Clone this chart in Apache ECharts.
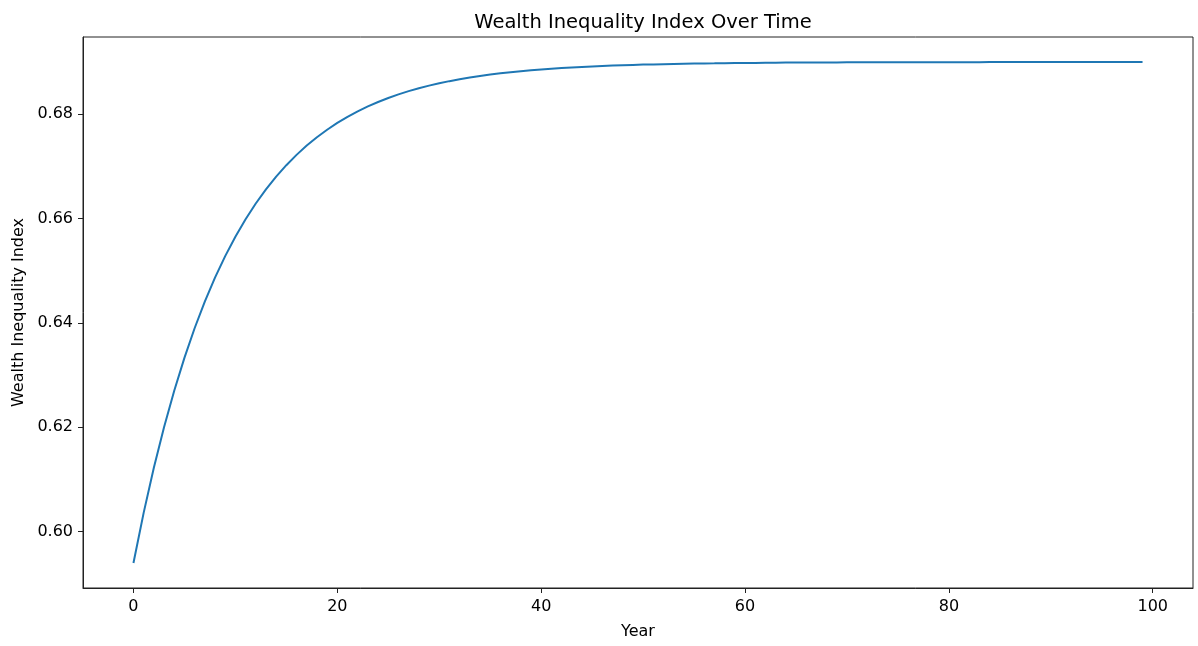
<!DOCTYPE html>
<html>
<head>
<meta charset="utf-8">
<title>Wealth Inequality Index Over Time</title>
<script src="https://cdn.jsdelivr.net/npm/echarts@6/dist/echarts.min.js"></script>
<style>
  html, body { margin: 0; padding: 0; background: #fff; }
  #chart { width: 1198px; height: 646px; }
</style>
</head>
<body>
<div id="chart"></div>
<script>
// years 0..99
const years = [];
for (let i = 0; i < 100; i++) years.push(i);

// index values
const inequality = [
  0.59400, 0.60360, 0.61224, 0.62002, 0.62701, 0.63331, 0.63898, 0.64408, 0.64868, 0.65281,
  0.65653, 0.65987, 0.66289, 0.66560, 0.66804, 0.67023, 0.67221, 0.67399, 0.67559, 0.67703,
  0.67833, 0.67950, 0.68055, 0.68149, 0.68234, 0.68311, 0.68380, 0.68442, 0.68498, 0.68548,
  0.68593, 0.68634, 0.68670, 0.68703, 0.68733, 0.68760, 0.68784, 0.68805, 0.68825, 0.68842,
  0.68858, 0.68872, 0.68885, 0.68897, 0.68907, 0.68916, 0.68925, 0.68932, 0.68939, 0.68945,
  0.68951, 0.68955, 0.68960, 0.68964, 0.68968, 0.68971, 0.68974, 0.68976, 0.68979, 0.68981,
  0.68983, 0.68984, 0.68986, 0.68987, 0.68989, 0.68990, 0.68991, 0.68992, 0.68993, 0.68993,
  0.68994, 0.68995, 0.68995, 0.68996, 0.68996, 0.68996, 0.68997, 0.68997, 0.68997, 0.68998,
  0.68998, 0.68998, 0.68998, 0.68998, 0.68999, 0.68999, 0.68999, 0.68999, 0.68999, 0.68999,
  0.68999, 0.68999, 0.69000, 0.69000, 0.69000, 0.69000, 0.69000, 0.69000, 0.69000, 0.69000
];

const xTicks = [0, 20, 40, 60, 80, 100];
const yTicks = [0.60, 0.62, 0.64, 0.66, 0.68];

const font = 'DejaVu Sans';
const dom = echarts.init(document.getElementById('chart'));

const option = {
  animation: false,
  title: {
    text: 'Wealth Inequality Index Over Time',
    left: 638,
    top: 8,
    textAlign: 'center',
    textStyle: { fontFamily: font, fontSize: 19.5, fontWeight: 'normal', color: '#000' }
  },
  grid: {
    left: 83,
    right: 5,
    top: 37,
    bottom: 58,
    show: true,
    borderColor: '#222',
    borderWidth: 1
  },
  xAxis: {
    type: 'value',
    min: -4.95,
    max: 103.95,
    name: 'Year',
    nameLocation: 'middle',
    nameGap: 36,
    nameTextStyle: { fontFamily: font, fontSize: 16, color: '#000' },
    splitLine: { show: false },
    axisLine: { show: true, onZero: false, lineStyle: { color: '#222', width: 1 } },
    axisTick: { show: true, length: 5, customValues: xTicks, lineStyle: { color: '#222' } },
    axisLabel: {
      customValues: xTicks,
      margin: 11,
      fontFamily: font,
      fontSize: 16,
      color: '#000'
    }
  },
  yAxis: {
    type: 'value',
    min: 0.5892,
    max: 0.6948,
    name: 'Wealth Inequality Index',
    nameLocation: 'middle',
    nameGap: 56,
    nameTextStyle: { fontFamily: font, fontSize: 16, color: '#000' },
    splitLine: { show: false },
    axisLine: { show: true, onZero: false, lineStyle: { color: '#222', width: 1 } },
    axisTick: { show: true, length: 5, customValues: yTicks, lineStyle: { color: '#222' } },
    axisLabel: {
      customValues: yTicks,
      margin: 10,
      fontFamily: font,
      fontSize: 16,
      color: '#000',
      formatter: v => v.toFixed(2)
    }
  },
  series: [
    {
      type: 'line',
      data: years.map((y, i) => [y, inequality[i]]),
      showSymbol: false,
      smooth: false,
      lineStyle: { color: '#1f77b4', width: 2 }
    }
  ]
};

dom.setOption(option);
</script>
</body>
</html>
